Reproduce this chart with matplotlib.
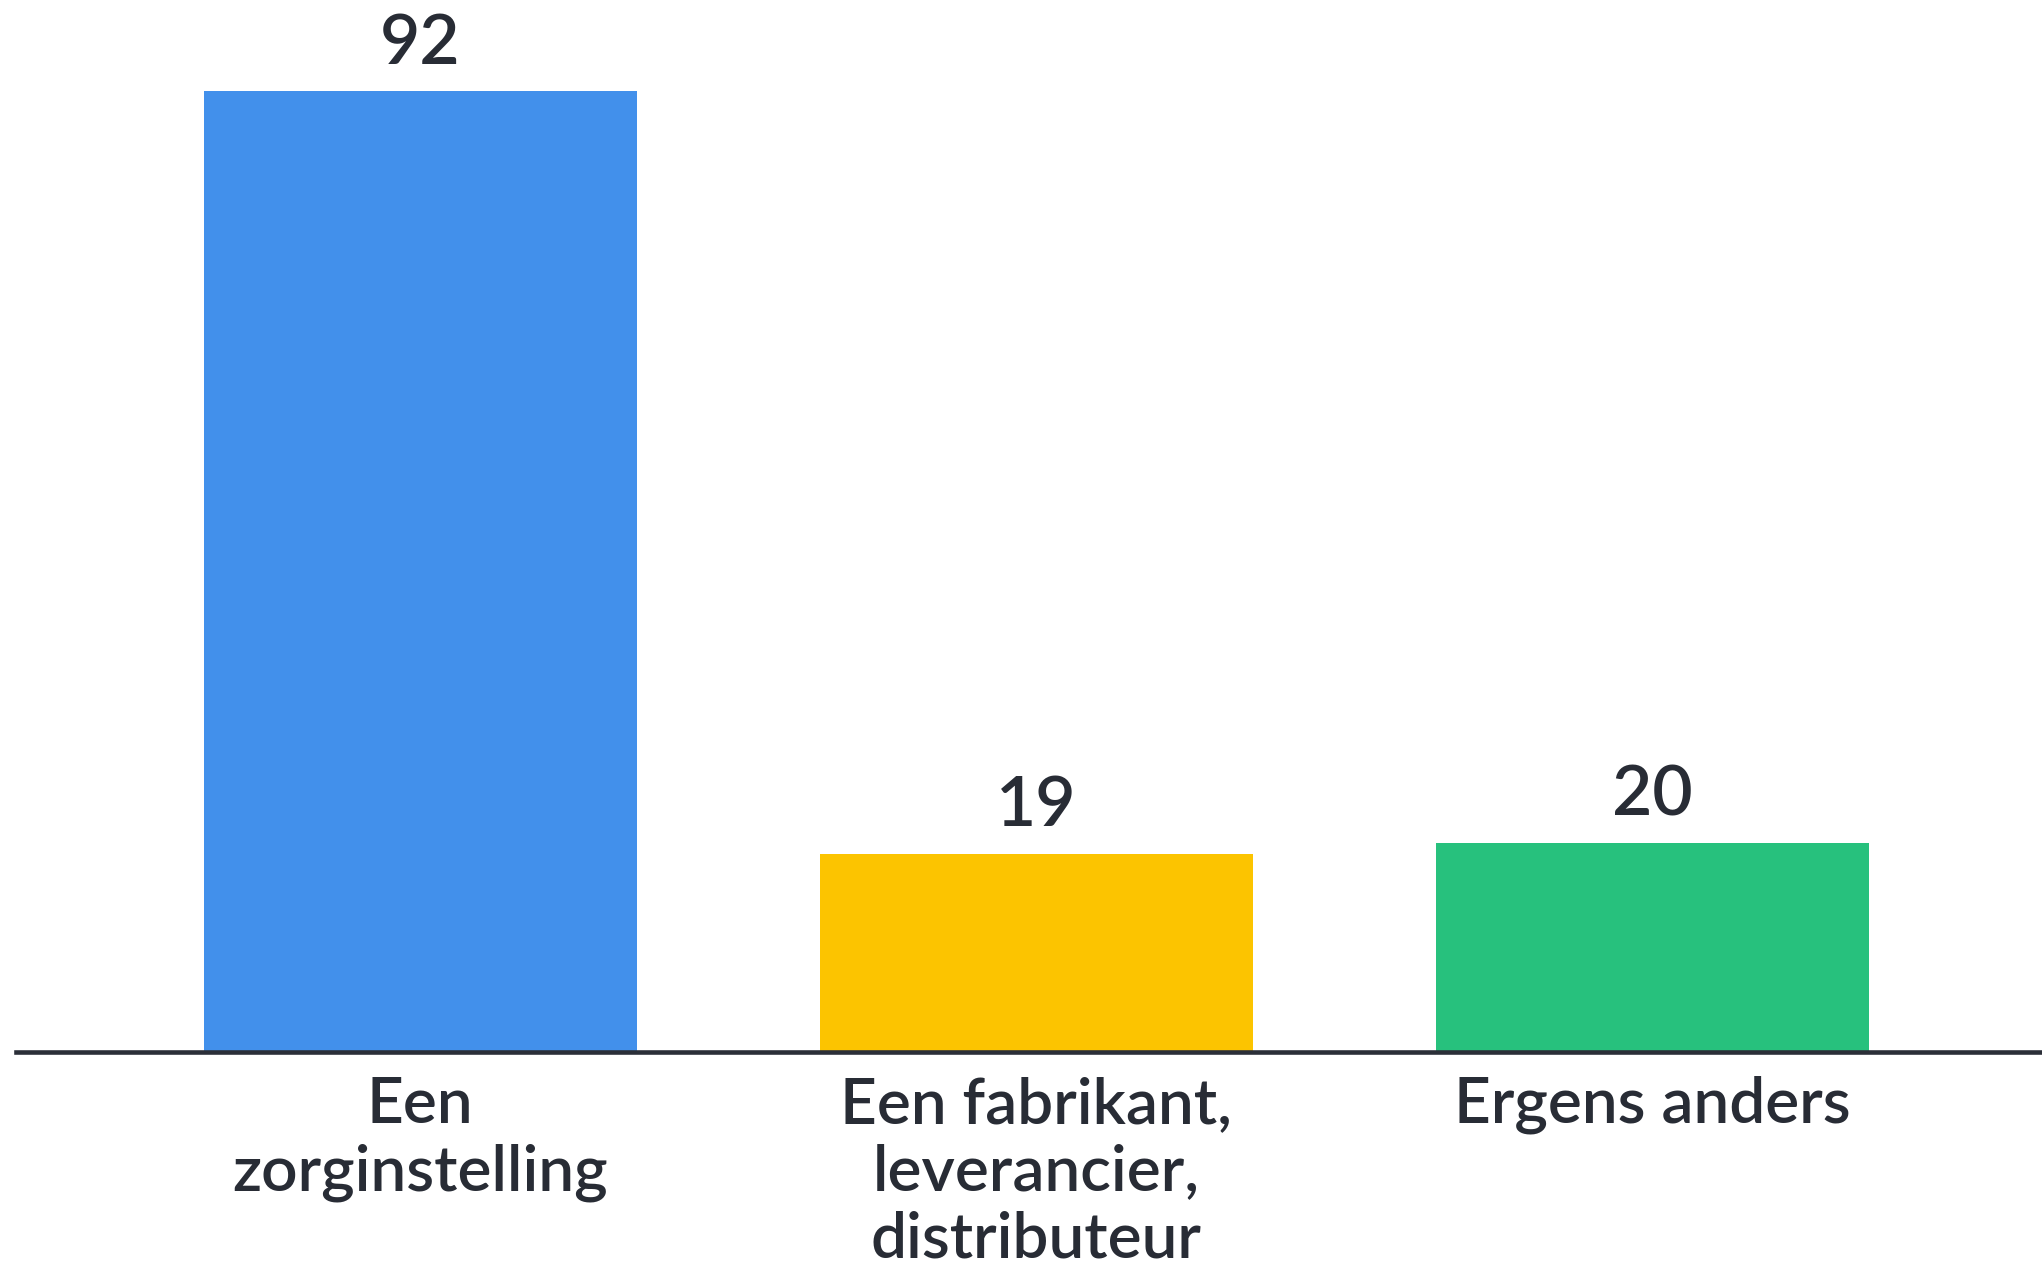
import matplotlib
matplotlib.use("Agg")
import matplotlib.pyplot as plt

# data
categories = ["Een\nzorginstelling", "Een fabrikant,\nleverancier,\ndistributeur", "Ergens anders"]
values = [92, 19, 20]
colors = ["#4290eb", "#fcc400", "#27c17d"]

text_color = "#282c35"
plt.rcParams["font.family"] = ["Lato", "DejaVu Sans"]

fig = plt.figure(figsize=(20.42, 12.71), dpi=100)
ax = fig.add_axes([16 / 2042, 219 / 1271, 1 - 16 / 2042, 1052 / 1271])

x = range(len(values))
bars = ax.bar(x, values, width=0.703, color=colors, zorder=1)

# value labels above the bars
for b, v in zip(bars, values):
    ax.annotate(str(v), (b.get_x() + b.get_width() / 2, v),
                xytext=(0, 11), textcoords="offset points",
                ha="center", va="bottom", fontsize=50,
                fontweight="semibold", color=text_color)

ax.set_xlim(-0.656, 2.633)
ax.set_ylim(0, 1052 / 10.446)

ax.set_xticks(list(x))
ax.set_xticklabels(categories, fontsize=46, fontweight="semibold",
                   color=text_color, linespacing=1.2)
ax.tick_params(axis="x", length=0, pad=17)
ax.set_yticks([])

for s in ["top", "left", "right"]:
    ax.spines[s].set_visible(False)
ax.spines["bottom"].set_linewidth(3.3)
ax.spines["bottom"].set_color("#2b2f38")

fig.savefig("out.png", dpi=100, facecolor="white")
